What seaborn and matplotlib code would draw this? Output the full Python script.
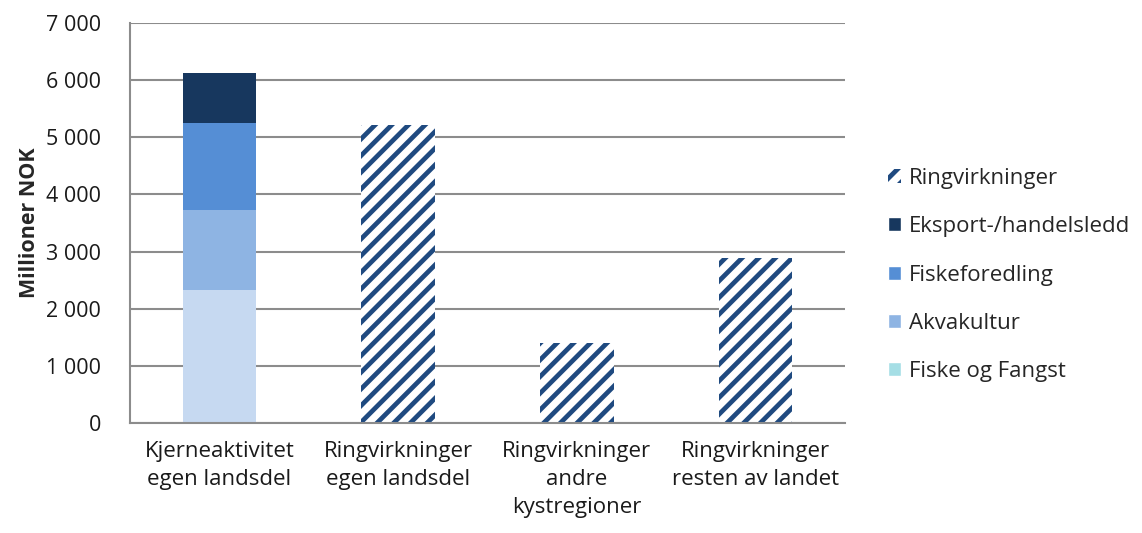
import matplotlib
matplotlib.use("Agg")
from matplotlib import pyplot as plt
from matplotlib.patches import Patch
from matplotlib.ticker import FuncFormatter
import seaborn as sns

# kategorier (x-akse)
categories = ["Kjerneaktivitet\negen landsdel", "Ringvirkninger\negen landsdel",
              "Ringvirkninger\nandre\nkystregioner", "Ringvirkninger\nresten av landet"]

# kjerneaktivitet, stablet (kun første søyle)
core_labels = ["Fiske og Fangst", "Akvakultur", "Fiskeforedling", "Eksport-/handelsledd"]
core_values = [2330, 1400, 1520, 875]
core_colors = ["#C6D9F1", "#8EB4E3", "#558ED5", "#17375E"]
legend_fiske = "#A5DEE5"

# ringvirkninger (søyle 2-4)
ring_values = [5215, 1400, 2880]
ring_color = "#1F4A80"

sns.set_style("white")
plt.rcParams["font.family"] = ["Open Sans", "DejaVu Sans"]
plt.rcParams["hatch.linewidth"] = 3.4
plt.rcParams["hatch.color"] = ring_color

fig = plt.figure(figsize=(11.42, 5.33), dpi=100)
ax = fig.add_axes([0.1138, 0.2064, 0.6262, 0.7505])

bw = 0.41
bottom = 0
for lab, val, col in zip(core_labels, core_values, core_colors):
    sns.barplot(x=[categories[0]], y=[val], order=categories, color=col,
                width=bw, bottom=bottom, saturation=1, errorbar=None,
                linewidth=0, ax=ax)
    bottom += val

sns.barplot(x=categories[1:], y=ring_values, order=categories, color="white",
            width=bw, saturation=1, errorbar=None, linewidth=0,
            edgecolor=ring_color, hatch="//", ax=ax)

ax.set_xlim(-0.5, 3.5)
ax.set_ylim(0, 7000)
ax.set_yticks(range(0, 7001, 1000))
ax.yaxis.set_major_formatter(FuncFormatter(lambda v, p: f"{int(v):,}".replace(",", " ")))
ax.yaxis.grid(True, color="#8C8C8C", linewidth=1.5)
ax.set_axisbelow(True)

ax.set_xticks(range(4))
ax.set_xticklabels(categories, fontsize=16, linespacing=1.45, va="top")
ax.set_xticks([-0.5, 0.5, 1.5, 2.5, 3.5], minor=True)
ax.tick_params(axis="x", which="major", length=0, pad=13, colors="#1a1a1a")
ax.tick_params(axis="x", which="minor", length=6, width=1.2, color="#8C8C8C", direction="out")
ax.tick_params(axis="y", length=6, width=1.2, color="#8C8C8C", direction="out",
               labelsize=15.5, labelcolor="#1a1a1a", pad=15)
ax.set_xlabel("")
ax.set_ylabel("Millioner NOK", fontsize=15.5, fontweight="bold", labelpad=4)

for s in ["top", "right"]:
    ax.spines[s].set_visible(False)
for s in ["left", "bottom"]:
    ax.spines[s].set_color("#8C8C8C")
    ax.spines[s].set_linewidth(1.5)

handles = [Patch(facecolor="white", edgecolor=ring_color, hatch="//", linewidth=0, label="Ringvirkninger"),
           Patch(facecolor=core_colors[3], label=core_labels[3]),
           Patch(facecolor=core_colors[2], label=core_labels[2]),
           Patch(facecolor=core_colors[1], label=core_labels[1]),
           Patch(facecolor=legend_fiske, label=core_labels[0])]
fig.legend(handles=handles, loc="center left", bbox_to_anchor=(0.7697, 0.484),
           frameon=False, fontsize=16, handlelength=0.6, handleheight=0.6,
           handletextpad=0.35, labelspacing=1.23, borderaxespad=0)

fig.savefig("out.png", dpi=100)
